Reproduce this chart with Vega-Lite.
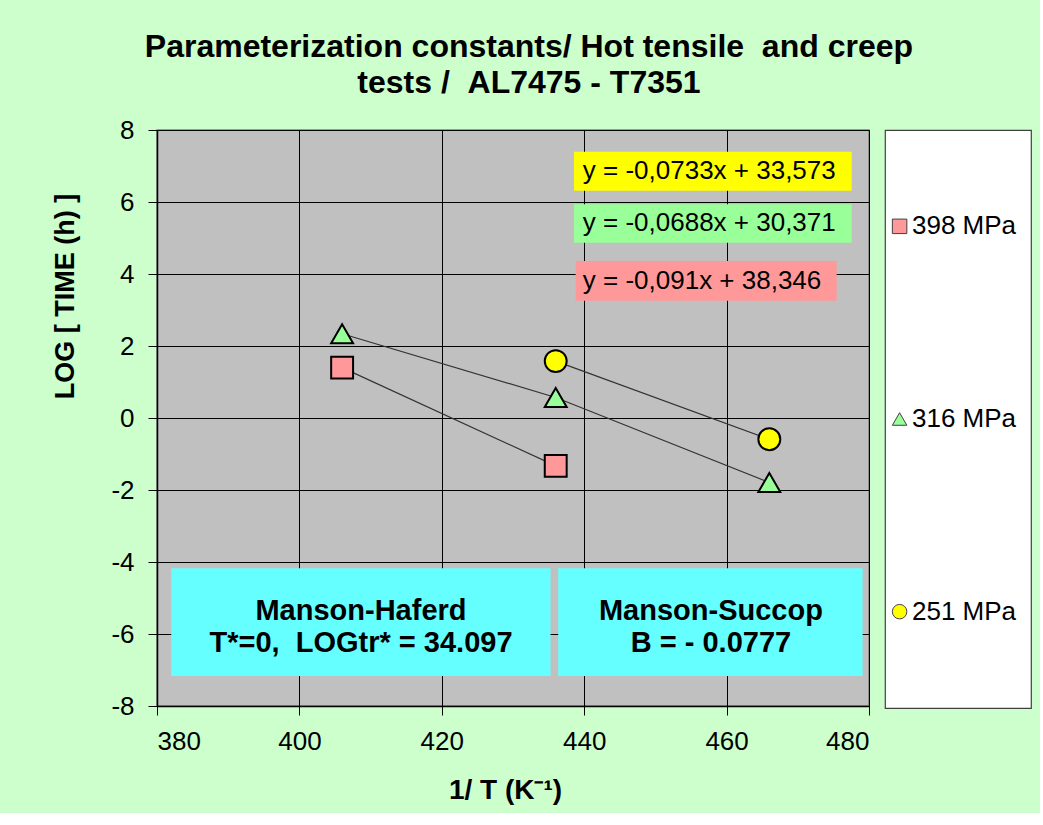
{
  "$schema": "https://vega.github.io/schema/vega-lite/v6.json",
  "background": "#CCFFCC",
  "padding": {"left": 50, "top": 31, "right": 8, "bottom": 8},
  "bounds": "flush",
  "spacing": 16,
  "title": {
    "text": ["Parameterization constants/ Hot tensile \u00a0and creep", "tests / \u00a0AL7475 - T7351"],
    "font": "Liberation Sans",
    "fontSize": 32,
    "fontWeight": "bold",
    "color": "#000000",
    "lineHeight": 36,
    "anchor": "middle",
    "dx": -12,
    "offset": 16
  },
  "config": {
    "font": "Liberation Sans",
    "axis": {
      "labelFont": "Liberation Sans",
      "labelFontSize": 26,
      "labelColor": "#000000",
      "titleFont": "Liberation Sans",
      "titleFontSize": 27,
      "titleFontWeight": "bold",
      "titleColor": "#000000",
      "domainColor": "#000000",
      "domainWidth": 1.5,
      "tickColor": "#000000",
      "tickSize": 9,
      "tickWidth": 1,
      "gridColor": "#000000",
      "gridWidth": 1,
      "gridOpacity": 1
    }
  },
  "datasets": {
    "pts": [
      {"stress": "398 MPa", "invT": 406, "logt": 1.40},
      {"stress": "398 MPa", "invT": 436, "logt": -1.33},
      {"stress": "316 MPa", "invT": 406, "logt": 2.34},
      {"stress": "316 MPa", "invT": 436, "logt": 0.57},
      {"stress": "316 MPa", "invT": 466, "logt": -1.79},
      {"stress": "251 MPa", "invT": 436, "logt": 1.58},
      {"stress": "251 MPa", "invT": 466, "logt": -0.59}
    ],
    "eqs": [
      {"stress": "251 MPa", "label": "y = -0,0733x + 33,573", "x1": 438.57, "x2": 477.57, "y1": 7.397, "y2": 6.314, "tx": 439.8, "ty": 6.856},
      {"stress": "316 MPa", "label": "y = -0,0688x + 30,371", "x1": 438.57, "x2": 477.57, "y1": 5.936, "y2": 4.869, "tx": 439.8, "ty": 5.403},
      {"stress": "398 MPa", "label": "y = -0,091x + 38,346", "x1": 438.8, "x2": 475.46, "y1": 4.361, "y2": 3.258, "tx": 439.8, "ty": 3.808}
    ],
    "boxes": [
      {"label": "Manson-Haferd\nT*=0, \u00a0LOGtr* = 34.097", "x1": 382.0, "x2": 435.27, "y1": -4.175, "y2": -7.167, "tx": 408.65, "ty": -5.37},
      {"label": "Manson-Succop\nB = - 0.0777", "x1": 436.35, "x2": 479.1, "y1": -4.175, "y2": -7.167, "tx": 457.8, "ty": -5.37}
    ],
    "legend": [
      {"stress": "398 MPa"},
      {"stress": "316 MPa"},
      {"stress": "251 MPa"}
    ]
  },
  "hconcat": [
    {
      "width": 712,
      "height": 576,
      "view": {"fill": "#C0C0C0", "stroke": "#808080", "strokeWidth": 1.5},
      "layer": [
        {
          "data": {"name": "boxes"},
          "mark": {"type": "rect", "fill": "#66FFFF", "stroke": null},
          "encoding": {
            "x": {
              "field": "x1", "type": "quantitative",
              "scale": {"domain": [380, 480], "nice": false, "zero": false},
              "axis": {
                "values": [380, 400, 420, 440, 460, 480],
                "title": "1/ T (K⁻¹)",
                "titleFontSize": 28,
                "labelPadding": 13,
                "titlePadding": 22,
                "titleX": 348,
                "grid": true,
                "labelExpr": "'' + datum.value"
              }
            },
            "x2": {"field": "x2"},
            "y": {
              "field": "y1", "type": "quantitative",
              "scale": {"domain": [-8, 8], "nice": false, "zero": false},
              "axis": {
                "values": [-8, -6, -4, -2, 0, 2, 4, 6, 8],
                "title": "LOG [ TIME (h) ]",
                "labelPadding": 14,
                "titleAngle": -90,
                "titleAlign": "center",
                "titleBaseline": "bottom",
                "titleX": -78,
                "titleY": 166,
                "grid": true,
                "labelExpr": "'' + datum.value"
              }
            },
            "y2": {"field": "y2"}
          }
        },
        {
          "data": {"name": "boxes"},
          "mark": {"type": "text", "fontSize": 29, "fontWeight": "bold", "color": "#000000", "lineBreak": "\n", "lineHeight": 32, "align": "center", "baseline": "middle"},
          "encoding": {
            "x": {"field": "tx", "type": "quantitative"},
            "y": {"field": "ty", "type": "quantitative"},
            "text": {"field": "label"}
          }
        },
        {
          "data": {"name": "eqs"},
          "mark": {"type": "rect", "stroke": null, "opacity": 1},
          "encoding": {
            "x": {"field": "x1", "type": "quantitative"},
            "x2": {"field": "x2"},
            "y": {"field": "y1", "type": "quantitative"},
            "y2": {"field": "y2"},
            "fill": {
              "field": "stress", "type": "nominal",
              "scale": {"domain": ["398 MPa", "316 MPa", "251 MPa"], "range": ["#FF9999", "#99FF99", "#FFFF00"]},
              "legend": null
            }
          }
        },
        {
          "data": {"name": "eqs"},
          "mark": {"type": "text", "fontSize": 26, "color": "#000000", "align": "left", "baseline": "middle"},
          "encoding": {
            "x": {"field": "tx", "type": "quantitative"},
            "y": {"field": "ty", "type": "quantitative"},
            "text": {"field": "label"}
          }
        },
        {
          "data": {"name": "pts"},
          "mark": {"type": "line", "color": "#333333", "strokeWidth": 1.2},
          "encoding": {
            "x": {"field": "invT", "type": "quantitative"},
            "y": {"field": "logt", "type": "quantitative"},
            "detail": {"field": "stress"},
            "order": {"field": "invT"}
          }
        },
        {
          "data": {"name": "pts"},
          "mark": {"type": "point", "filled": true, "stroke": "#000000", "strokeWidth": 2, "size": 480, "opacity": 1},
          "encoding": {
            "x": {"field": "invT", "type": "quantitative"},
            "y": {"field": "logt", "type": "quantitative"},
            "shape": {
              "field": "stress", "type": "nominal",
              "scale": {"domain": ["398 MPa", "316 MPa", "251 MPa"], "range": ["square", "triangle-up", "circle"]},
              "legend": null
            },
            "fill": {
              "field": "stress", "type": "nominal",
              "scale": {"domain": ["398 MPa", "316 MPa", "251 MPa"], "range": ["#FF9999", "#99FF99", "#FFFF00"]},
              "legend": null
            }
          }
        }
      ]
    },
    {
      "width": 146,
      "height": 578,
      "view": {"fill": "#FFFFFF", "stroke": "#404040", "strokeWidth": 1.2},
      "data": {"name": "legend"},
      "layer": [
        {
          "mark": {"type": "point", "filled": true, "stroke": "#404040", "strokeWidth": 1, "size": 210, "opacity": 1},
          "encoding": {
            "x": {"datum": 0.1, "type": "quantitative", "scale": {"domain": [0, 1], "nice": false, "zero": false}, "axis": null},
            "y": {"field": "stress", "type": "nominal", "scale": {"type": "point", "domain": ["398 MPa", "316 MPa", "251 MPa"], "padding": 0.5}, "axis": null},
            "shape": {
              "field": "stress", "type": "nominal",
              "scale": {"domain": ["398 MPa", "316 MPa", "251 MPa"], "range": ["square", "triangle-up", "circle"]},
              "legend": null
            },
            "fill": {
              "field": "stress", "type": "nominal",
              "scale": {"domain": ["398 MPa", "316 MPa", "251 MPa"], "range": ["#FF9999", "#99FF99", "#FFFF00"]},
              "legend": null
            }
          }
        },
        {
          "mark": {"type": "text", "fontSize": 26, "color": "#000000", "align": "left", "baseline": "middle"},
          "encoding": {
            "x": {"datum": 0.185, "type": "quantitative"},
            "y": {"field": "stress", "type": "nominal"},
            "text": {"field": "stress"}
          }
        }
      ]
    }
  ]
}
